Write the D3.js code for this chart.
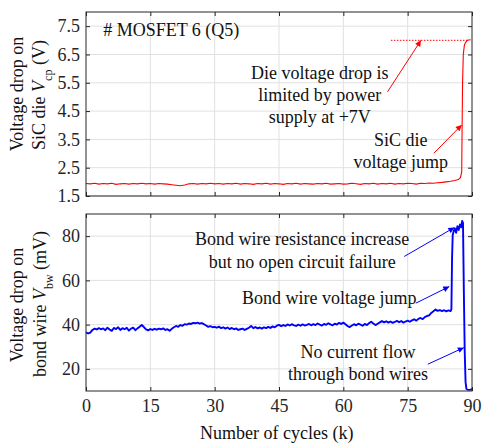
<!DOCTYPE html>
<html><head><meta charset="utf-8">
<script src="https://cdn.jsdelivr.net/npm/d3@7"></script>
<style>body{margin:0;background:#fff}svg{display:block}</style>
</head><body><svg id="c" width="482" height="444"></svg>
<script>
// ---------- data ----------
const xTicks = [0, 15, 30, 45, 60, 75, 90];
const topYTicks = [1.5, 2.5, 3.5, 4.5, 5.5, 6.5, 7.5];
const botYTicks = [20, 40, 60, 80];

const dieCycles = [0,1,2,3,4,5,6,7,8,9,10,11,12,13,14,15,16,17,18,19,20,21,22,23,24,25,26,27,28,29,30,31,32,33,34,35,36,37,38,39,40,41,42,43,44,45,46,47,48,49,50,51,52,53,54,55,56,57,58,59,60,61,62,63,64,65,66,67,68,69,70,71,72,73,74,75,76,77,78,79,80,81,82,83,84,85,86,86.8,87.3,87.6,87.7,87.8,87.97,88.2,88.4,88.9,89.7];
const dieVoltage = [1.94,1.93,1.95,1.92,1.94,1.93,1.95,1.91,1.93,1.94,1.92,1.94,1.93,1.95,1.93,1.94,1.92,1.94,1.93,1.92,1.90,1.88,1.86,1.89,1.93,1.94,1.92,1.94,1.93,1.95,1.93,1.94,1.92,1.94,1.93,1.95,1.92,1.94,1.93,1.91,1.94,1.93,1.95,1.92,1.94,1.93,1.91,1.94,1.93,1.95,1.92,1.94,1.93,1.92,1.94,1.93,1.95,1.92,1.93,1.94,1.92,1.93,1.95,1.93,1.91,1.94,1.93,1.95,1.92,1.94,1.93,1.95,1.92,1.94,1.93,1.95,1.94,1.92,1.95,1.94,1.96,1.95,1.97,1.98,2.00,2.02,2.05,2.08,2.15,2.35,4.0,5.5,6.5,6.8,6.9,7.0,7.02];
const supplyLimit = 7;
const limitFrom = 71.1, limitTo = 88.9;

const bwCycles = [0,0.5,1,1.5,2,2.5,3,3.5,4,4.5,5,5.5,6,6.5,7,7.5,8,8.5,9,9.5,10,10.5,11,11.5,12,12.5,13,13.5,14,14.5,15,15.5,16,16.5,17,17.5,18,18.5,19,19.5,20,20.5,21,21.5,22,22.5,23,23.5,24,24.5,25,25.5,26,26.5,27,27.5,28,28.5,29,29.5,30,30.5,31,31.5,32,32.5,33,33.5,34,34.5,35,35.5,36,36.5,37,37.5,38,38.5,39,39.5,40,40.5,41,41.5,42,42.5,43,43.5,44,44.5,45,45.5,46,46.5,47,47.5,48,48.5,49,49.5,50,50.5,51,51.5,52,52.5,53,53.5,54,54.5,55,55.5,56,56.5,57,57.5,58,58.5,59,59.5,60,60.5,61,61.5,62,62.5,63,63.5,64,64.5,65,65.5,66,66.5,67,67.5,68,68.5,69,69.5,70,70.5,71,71.5,72,72.5,73,73.5,74,74.5,75,75.5,76,76.5,77,77.5,78,78.5,79,79.5,80,80.5,81,81.5,82,82.5,83,83.5,84,84.5,85,85.2,85.35,85.5,85.7,86,86.3,86.6,86.9,87.2,87.5,87.7,87.9,88.1,88.3,88.5,88.7,89,89.3,89.6,90];
const bwVoltage = [36.5,36.0,36.4,37.6,38.2,37.8,38.4,37.9,38.3,37.5,38.6,37.8,37.2,38.5,38.0,38.8,37.6,38.4,37.9,38.6,37.3,38.2,38.6,37.5,38.3,39.0,39.8,38.9,37.8,37.4,38.0,37.6,38.1,37.7,38.2,37.9,38.3,37.6,37.9,37.2,38.1,38.8,39.4,39.0,39.8,39.5,40.2,40.0,40.5,40.3,40.8,40.6,40.9,40.5,40.7,40.2,39.6,39.0,39.3,38.8,39.0,38.6,39.1,38.4,38.8,38.2,38.7,38.0,38.5,37.9,38.3,37.6,37.9,38.2,37.6,38.1,38.6,39.4,38.4,38.9,38.3,38.7,38.2,38.8,38.4,39.0,38.5,39.2,38.8,39.5,39.9,39.3,39.8,39.4,40.1,39.6,40.2,39.7,39.4,40.0,39.5,40.1,39.6,39.9,40.3,39.7,40.2,39.8,40.5,40.0,39.6,40.3,39.9,40.6,40.1,39.7,40.4,40.0,40.8,40.3,40.9,40.2,39.3,38.9,39.6,40.2,39.7,40.4,40.0,39.5,40.3,39.8,40.7,41.3,40.5,39.8,40.4,41.0,41.6,41.0,41.5,40.9,41.4,40.8,41.2,41.7,41.1,41.6,40.9,41.4,41.8,41.3,41.9,42.4,41.8,42.6,43.0,42.5,43.4,43.9,44.2,45.3,46.0,46.8,46.2,46.6,46.1,46.5,46.0,46.4,46.1,47.0,70.0,80.5,82.0,83.5,81.5,84.5,82.8,85.3,84.0,86.9,86.0,55.0,28.0,14.0,11.0,10.6,10.5,10.6,10.8];

// ---------- layout ----------
const svg = d3.select("#c");
const L = 86, R = 472;
const topP = {y0: 12, y1: 196};
const botP = {y0: 214, y1: 391};
const FONT = 18, TXT = "#262626", GRID = "#e0e0e0";
const FAM = "Liberation Serif";

const x = d3.scaleLinear().domain([0, 90]).range([L, R]);
const yT = d3.scaleLinear().domain([1.5, 8]).range([topP.y1, topP.y0]);
const yB = d3.scaleLinear().domain([10, 90]).range([botP.y1, botP.y0]);

const defs = svg.append("defs");
function marker(id, col) {
  defs.append("marker").attr("id", id).attr("viewBox", "0 0 10 10")
    .attr("refX", 10).attr("refY", 5).attr("markerWidth", 7).attr("markerHeight", 6)
    .attr("markerUnits", "userSpaceOnUse").attr("orient", "auto")
    .append("path").attr("d", "M0,0L10,5L0,10z").attr("fill", col);
}
marker("ar", "#ff0000"); marker("ab", "#0000ff");

function panel(y, yTicks, p) {
  const g = svg.append("g");
  g.selectAll(".gx").data(xTicks.slice(1, -1)).join("line")
    .attr("x1", d => x(d)).attr("x2", d => x(d)).attr("y1", p.y0).attr("y2", p.y1)
    .attr("stroke", GRID).attr("stroke-width", 1);
  g.selectAll(".gy").data(yTicks).join("line")
    .attr("x1", L).attr("x2", R).attr("y1", d => y(d)).attr("y2", d => y(d))
    .attr("stroke", GRID).attr("stroke-width", 1);
}
function frame(y, yTicks, p, fmt, showX) {
  const g = svg.append("g");
  const tl = 4;
  g.append("g").attr("transform", `translate(${L},0)`)
    .call(d3.axisLeft(y).tickValues(yTicks).tickSize(-tl).tickPadding(6).tickFormat(fmt));
  g.append("g").attr("transform", `translate(${R},0)`)
    .call(d3.axisRight(y).tickValues(yTicks).tickSize(-tl).tickFormat(""));
  g.append("g").attr("transform", `translate(0,${p.y1})`)
    .call(d3.axisBottom(x).tickValues(xTicks).tickSize(-tl).tickPadding(8).tickFormat(showX ? d3.format("d") : ""));
  g.append("g").attr("transform", `translate(0,${p.y0})`)
    .call(d3.axisTop(x).tickValues(xTicks).tickSize(-tl).tickFormat(""));
  g.selectAll(".domain").remove();
  g.selectAll(".tick line").attr("stroke", TXT).attr("stroke-width", 1);
  g.selectAll(".tick text").attr("fill", TXT).style("font-size", FONT + "px").style("font-family", FAM);
  g.append("rect").attr("x", L).attr("y", p.y0).attr("width", R - L).attr("height", p.y1 - p.y0)
    .attr("fill", "none").attr("stroke", TXT).attr("stroke-width", 1);
}

panel(yT, topYTicks, topP);
panel(yB, botYTicks, botP);

// ---------- top data ----------
svg.append("line").attr("x1", x(limitFrom)).attr("x2", x(limitTo))
  .attr("y1", yT(supplyLimit)).attr("y2", yT(supplyLimit))
  .attr("stroke", "#ff0000").attr("stroke-width", 1).attr("stroke-dasharray", "1.5,1.5");
svg.append("path").datum(dieCycles.map((c, i) => [c, dieVoltage[i]]))
  .attr("d", d3.line().x(d => x(d[0])).y(d => yT(d[1])))
  .attr("fill", "none").attr("stroke", "#ff0000").attr("stroke-width", 1.1);

// ---------- bottom data ----------
svg.append("path").datum(bwCycles.map((c, i) => [c, bwVoltage[i]]))
  .attr("d", d3.line().x(d => x(d[0])).y(d => yB(d[1])))
  .attr("fill", "none").attr("stroke", "#0000ff").attr("stroke-width", 1.9).attr("stroke-linejoin", "round");

frame(yT, topYTicks, topP, d3.format(".1f"), false);
frame(yB, botYTicks, botP, d3.format("d"), true);

// ---------- text ----------
function label(tx, ty, str, anchor) {
  return svg.append("text").attr("x", tx).attr("y", ty).attr("dy", "0.35em")
    .attr("text-anchor", anchor || "middle").attr("fill", "#111")
    .style("font-size", FONT + "px").style("font-family", FAM).text(str);
}
label(x(4.0), yT(7.39), "# MOSFET 6 (Q5)", "start");
label(x(54.5), yT(5.86), "Die voltage drop is");
label(x(54.5), yT(5.07), "limited by power");
label(x(54.5), yT(4.30), "supply at +7V");
label(x(73.4), yT(3.50), "SiC die");
label(x(73.4), yT(2.71), "voltage jump");

label(x(50.4), yB(78.7), "Bond wire resistance increase");
label(x(50.4), yB(68.5), "but no open circuit failure");
label(x(56.7), yB(52.0), "Bond wire voltage jump");
label(x(63.4), yB(27.8), "No current flow");
label(x(63.4), yB(17.6), "through bond wires");

function arrow(y, a, b, m, col) {
  svg.append("line").attr("x1", x(a[0])).attr("y1", y(a[1])).attr("x2", x(b[0])).attr("y2", y(b[1]))
    .attr("stroke", col).attr("stroke-width", 1).attr("marker-end", `url(#${m})`);
}
arrow(yT, [70.3, 5.18], [78.1, 7.0], "ar", "#ff0000");
arrow(yT, [81.1, 3.01], [87.6, 4.01], "ar", "#ff0000");
arrow(yB, [74.2, 70.8], [85.9, 83.9], "ab", "#0000ff");
arrow(yB, [76.9, 49.7], [84.7, 57.2], "ab", "#0000ff");
arrow(yB, [79.7, 22.1], [88.1, 29.6], "ab", "#0000ff");

function ylab(cx, cy, parts) {
  const t = svg.append("text").attr("transform", `translate(${cx},${cy}) rotate(-90)`)
    .attr("text-anchor", "middle").attr("dy", "0.35em").attr("fill", "#111")
    .style("font-size", FONT + "px").style("font-family", FAM);
  parts.forEach(p => {
    const s = t.append("tspan").text(p.t);
    if (p.i) s.style("font-style", "italic");
    if (p.sub) s.style("font-size", "12px").attr("baseline-shift", "sub");
  });
}
ylab(17, 94, [{t: "Voltage drop on"}]);
ylab(38.5, 95, [{t: "SiC die "}, {t: "V", i: true}, {t: "cp", sub: true}, {t: " (V)"}]);
ylab(17, 305, [{t: "Voltage drop on"}]);
ylab(39.5, 304, [{t: "bond wire "}, {t: "V", i: true}, {t: "bw", sub: true}, {t: " (mV)"}]);

svg.append("text").attr("x", 276.7).attr("y", 438.5).attr("text-anchor", "middle")
  .attr("fill", "#111").style("font-size", FONT + "px").style("font-family", FAM).text("Number of cycles (k)");
</script></body></html>
